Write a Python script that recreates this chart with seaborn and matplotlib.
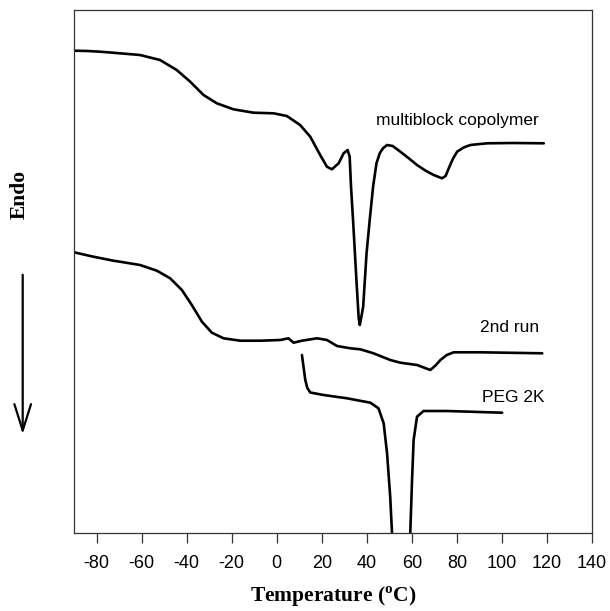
import numpy as np
import pandas as pd
import seaborn as sns
import matplotlib
matplotlib.use("Agg")
import matplotlib.pyplot as plt

# ---- data (temperature in degC, heat flow in arbitrary units) ----
copoly_T = [-90, -84, -78.4, -69.6, -60.7, -51.8, -44.4, -38.4, -32.5, -26.6, -19.2, -10.3,
            -1.4, 4.5, 10.4, 14.9, 19.3, 22.3, 24.5, 27.5, 29.7, 31.5, 32.4, 33.0, 33.9, 35.4,
            36.4, 36.9, 37.5, 38.4, 39.9, 41.3, 42.8, 44.3, 45.8, 47.2, 49.0, 51.5, 54.9,
            58.5, 62.3, 66.0, 69.7, 73.4, 75.0, 76.4, 78.2, 80.1, 83.0, 86.0, 93.4, 105.0,
            118.6]
copoly_H = [482.3, 482, 481.3, 479.7, 478, 473, 463, 451.3, 438, 429.7, 423.7, 420.3,
            419.7, 417, 408, 396.3, 378, 366.3, 363.7, 369.7, 379.7, 383, 376.3, 346.3, 313,
            253, 215, 208, 215, 226.3, 279.7, 313, 346.3, 369.7, 380, 384.7, 388, 387, 381.3,
            375, 368, 362.5, 358, 354.7, 357, 364.7, 374, 381.3, 385.5, 388, 389.7, 390,
            389.7]

run2_T = [-90, -81.4, -72.5, -69.6, -60.7, -53.2, -47.3, -42.1, -37.7, -33.2, -28.8, -23.6,
          -16.2, -7.3, 1.6, 5.2, 7.5, 11.2, 17.9, 22.3, 26.8, 32.7, 37.1, 43.0, 50.4, 54.9,
          62.3, 68.2, 70.5, 72.7, 75.5, 78.6, 90.4, 117.9]
run2_H = [280.7, 276.3, 272.3, 271.3, 268, 262.3, 254.7, 243, 228, 211.3, 200.3, 194.7,
          192.3, 192.3, 193, 194.7, 190.3, 192.3, 194.7, 193, 187, 184.7, 183.7, 179.7, 173,
          170.3, 168, 163, 167.5, 173, 178, 180.7, 180.7, 179.7]

peg_T = [11.2, 12.7, 13.6, 14.9, 20.8, 31.2, 41.6, 45.2, 47.5, 49.0, 50.4, 51.2, 51.6,
         58.9, 59.3, 60.1, 60.8, 62.3, 65.2, 75.6, 100.1]
peg_H = [178, 153, 145, 140.5, 138, 134.7, 130.3, 124.7, 109.7, 79.7, 36.3, 0, -40,
         -40, 0, 53, 93, 116.3, 122, 122, 120.3]

labels = ["multiblock copolymer", "2nd run", "PEG 2K"]
label_T = [44.2, 90.4, 91.1]
label_H = [413, 206, 136]
xticks = [-80, -60, -40, -20, 0, 20, 40, 60, 80, 100, 120, 140]

sns.set_theme(style="white")
plt.rcParams['font.family'] = ['Liberation Sans', 'DejaVu Sans']
plt.rcParams['mathtext.fontset'] = 'custom'
plt.rcParams['mathtext.rm'] = 'Liberation Serif:bold'
plt.rcParams['mathtext.bf'] = 'Liberation Serif:bold'
plt.rcParams['text.color'] = 'black'
plt.rcParams['axes.labelcolor'] = 'black'
plt.rcParams['xtick.color'] = 'black'
plt.rcParams['lines.solid_joinstyle'] = 'round'
plt.rcParams['lines.solid_capstyle'] = 'round'

fig = plt.figure(figsize=(6.10, 6.11), dpi=100)
ax = fig.add_axes([74/610, 1-533/611, (592-74)/610, (533-10)/611])

for T, H in [(copoly_T, copoly_H), (run2_T, run2_H), (peg_T, peg_H)]:
    df = pd.DataFrame({"T": T, "H": H})
    sns.lineplot(data=df, x="T", y="H", ax=ax, color="black", linewidth=1.9,
                 sort=False, estimator=None)

for s, tx, ty in zip(labels, label_T, label_H):
    ax.text(tx, ty, s, fontsize=12.5, va="center", ha="left", color="black")

ax.set_xlim(-90, 140)
ax.set_ylim(0, 523)
ax.set_xticks(xticks)
ax.set_xticklabels([str(v) for v in xticks], fontsize=13, color="black")
ax.set_yticks([])
ax.tick_params(axis="x", direction="out", length=7, width=0.9, color="#333333",
               labelcolor="black", pad=9, bottom=True)
for sp in ax.spines.values():
    sp.set_color("#333333")
    sp.set_linewidth(0.9)
ax.set_xlabel(r"Temperature ($^{\mathrm{o}}$C)", family="Liberation Serif",
              fontweight="bold", fontsize=15.5, labelpad=9, color="black")
ax.set_ylabel("")

fig.text(0.032, 1-194/611, "Endo", rotation=90, family="Liberation Serif",
         fontweight="bold", fontsize=15.5, ha="center", va="center", color="black")
fig.add_artist(matplotlib.patches.FancyArrowPatch(
    (22.7/610, 1-272/611), (22.7/610, 1-437/611), transform=fig.transFigure,
    arrowstyle="->,head_length=1.9,head_width=0.6", mutation_scale=10,
    linewidth=1.6, color="black"))

fig.savefig("out.png", dpi=100)
